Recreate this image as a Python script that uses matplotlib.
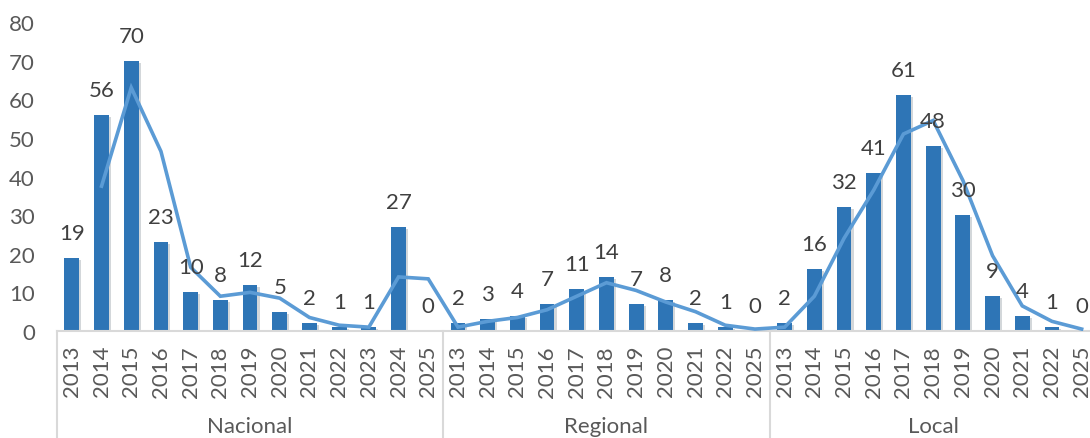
import numpy as np
import matplotlib
matplotlib.use("Agg")
import matplotlib.pyplot as plt
import matplotlib.patheffects as pe

plt.rcParams['font.family'] = ['Lato', 'DejaVu Sans']

# data
groups = ["Nacional", "Regional", "Local"]
nacional_years = ["2013", "2014", "2015", "2016", "2017", "2018", "2019",
                  "2020", "2021", "2022", "2023", "2024", "2025"]
nacional_vals = [19, 56, 70, 23, 10, 8, 12, 5, 2, 1, 1, 27, 0]
regional_years = ["2013", "2014", "2015", "2016", "2017", "2018", "2019",
                  "2020", "2021", "2022", "2025"]
regional_vals = [2, 3, 4, 7, 11, 14, 7, 8, 2, 1, 0]
local_years = ["2013", "2014", "2015", "2016", "2017", "2018", "2019",
               "2020", "2021", "2022", "2025"]
local_vals = [2, 16, 32, 41, 61, 48, 30, 9, 4, 1, 0]

# trend line (2-period moving average in the original)
nacional_trend = [np.nan, 37.5, 63, 46.5, 16.5, 9, 10, 8.5, 3.5, 1.5, 1, 14, 13.5]
regional_trend = [1, 2.5, 3.5, 5.5, 9, 12.5, 10.5, 7.5, 5, 1.5, 0.5]
local_trend = [1, 9, 24, 36.5, 51, 54.5, 39, 19.5, 6.5, 2.5, 0.5]

years = nacional_years + regional_years + local_years
vals = nacional_vals + regional_vals + local_vals
trend = nacional_trend + regional_trend + local_trend
sizes = [len(nacional_vals), len(regional_vals), len(local_vals)]

bar_color = "#2E75B6"
line_color = "#5B9BD5"
grid_gray = "#D9D9D9"
text_gray = "#595959"

W, H = 1090, 439
fig = plt.figure(figsize=(W / 100, H / 100), dpi=100)
left, right, top, bottom = 57, 1096.5, 23, 332
ax = fig.add_axes([left / W, (H - bottom) / H, (right - left) / W, (bottom - top) / H])

x = np.arange(len(vals))
bars = ax.bar(x, vals, width=0.5, color=bar_color, zorder=2)
for b in bars:
    b.set_path_effects([pe.SimplePatchShadow(offset=(1.5, -1.5), alpha=0.18), pe.Normal()])

ax.plot(x, trend, color=line_color, lw=2.6, zorder=3, solid_joinstyle='miter')

for xi, v in zip(x, vals):
    ax.annotate(str(v), (xi, v), xytext=(0, 18), textcoords="offset points",
                ha="center", va="center", fontsize=16, color="#404040", zorder=4)

ax.set_xlim(-0.5, len(vals) - 0.5)
ax.set_ylim(0, 80)
ax.set_yticks(range(0, 81, 10))
ax.set_xticks(x)
ax.set_xticklabels(years, rotation=90)
ax.tick_params(axis="x", length=0, pad=10, labelsize=16, labelcolor=text_gray)
ax.tick_params(axis="y", length=0, pad=16, labelsize=16, labelcolor=text_gray)

for s in ["top", "right", "left"]:
    ax.spines[s].set_visible(False)
ax.spines["bottom"].set_color(grid_gray)
ax.spines["bottom"].set_linewidth(1.5)

# group separators and labels
trans = ax.get_xaxis_transform()
bounds = [-0.5]
for n in sizes:
    bounds.append(bounds[-1] + n)
for bx in bounds:
    ax.plot([bx, bx], [0, -0.4], transform=trans, color=grid_gray, lw=1.5, clip_on=False)
for g, a, b in zip(groups, bounds[:-1], bounds[1:]):
    ax.text((a + b) / 2, -0.308, g, transform=trans, ha="center", va="center",
            fontsize=16, color=text_gray)

fig.savefig("out.png", dpi=100)
